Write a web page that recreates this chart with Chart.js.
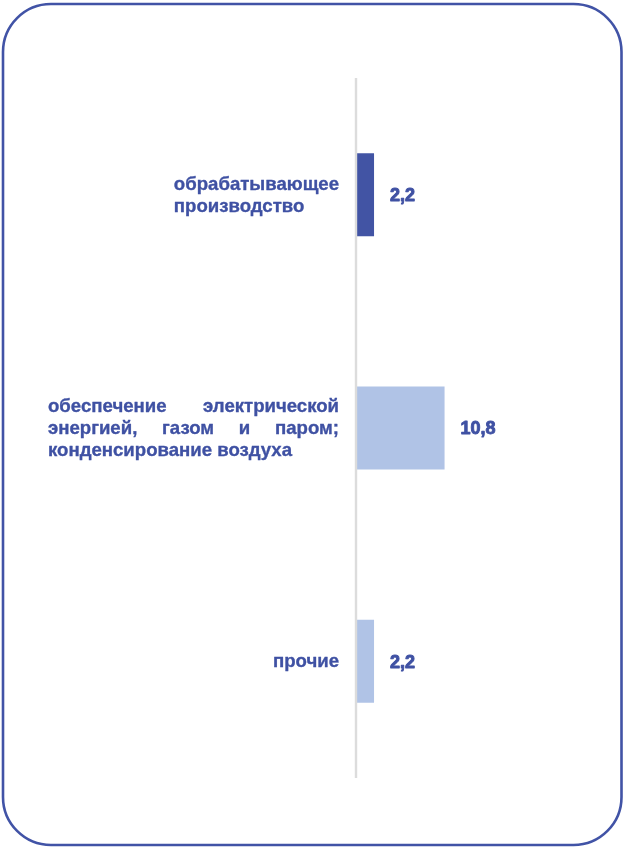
<!DOCTYPE html>
<html>
<head>
<meta charset="utf-8">
<script src="https://cdn.jsdelivr.net/npm/chart.js@4.4.1/dist/chart.umd.min.js"></script>
<style>
  html, body { margin: 0; padding: 0; background: #ffffff; }
  #c { display: block; }
</style>
</head>
<body>
<canvas id="c" width="625" height="849"></canvas>
<script>
// ---- data ----
const categories = [
  ["обрабатывающее", "производство"],
  ["обеспечение электрической", "энергией, газом и паром;", "конденсирование воздуха"],
  ["прочие"]
];
const values = [2.2, 10.8, 2.2];
const valueLabels = ["2,2", "10,8", "2,2"];

// ---- style ----
const textColor = "#3f51a3";
const barColors = ["#4254a4", "#b0c3e6", "#b0c3e6"];
const labelFont = "bold 18.6px 'Liberation Sans'";
const valueFont = "bold 18px 'Liberation Sans'";
const labelRight = 339;
const labelBoxWidths = [null, 291, null]; // null = natural width
const lineHeight = 22;

const decorPlugin = {
  id: 'decor',
  beforeDraw(chart) {
    const ctx = chart.ctx;
    ctx.save();
    ctx.fillStyle = '#ffffff';
    ctx.fillRect(0, 0, chart.width, chart.height);
    ctx.strokeStyle = '#4153a6';
    ctx.lineWidth = 2.6;
    ctx.beginPath();
    ctx.roundRect(3, 4, 618.5, 841, 48);
    ctx.stroke();
    ctx.restore();
  },
  afterDatasetsDraw(chart) {
    const ctx = chart.ctx;
    const xs = chart.scales.x, ys = chart.scales.y;
    const area = chart.chartArea;
    ctx.save();
    // axis line
    ctx.strokeStyle = '#dcdcdc';
    ctx.lineWidth = 2.4;
    const x0 = xs.getPixelForValue(0);
    ctx.beginPath();
    ctx.moveTo(x0, area.top);
    ctx.lineTo(x0, area.bottom);
    ctx.stroke();

    // category labels (justified block)
    ctx.fillStyle = textColor;
    ctx.strokeStyle = textColor;
    ctx.lineWidth = 0.35;
    ctx.lineJoin = 'round';
    ctx.font = labelFont;
    ctx.textBaseline = 'middle';
    ctx.textAlign = 'left';
    const put = (t, x, y) => { ctx.fillText(t, x, y); ctx.strokeText(t, x, y); };
    categories.forEach((lines, i) => {
      const cy = ys.getPixelForValue(i) + 1;
      const widths = lines.map(l => ctx.measureText(l).width);
      const boxW = labelBoxWidths[i] || Math.max(...widths);
      const left = labelRight - boxW;
      const n = lines.length;
      lines.forEach((line, j) => {
        const y = cy + (j - (n - 1) / 2) * lineHeight;
        const words = line.split(' ');
        const isLast = j === n - 1;
        if (!isLast && words.length > 1) {
          const wordsW = words.reduce((s, w) => s + ctx.measureText(w).width, 0);
          const gap = (boxW - wordsW) / (words.length - 1);
          let x = left;
          words.forEach(w => {
            put(w, x, y);
            x += ctx.measureText(w).width + gap;
          });
        } else {
          put(line, left, y);
        }
      });
    });

    // value labels
    ctx.font = valueFont;
    ctx.lineWidth = 0.9;
    const meta = chart.getDatasetMeta(0);
    meta.data.forEach((bar, i) => {
      const x = bar.x + 16;
      const y = bar.y + 1.5;
      ctx.strokeText(valueLabels[i], x, y);
      ctx.fillText(valueLabels[i], x, y);
    });
    ctx.restore();
  }
};

function build() {
  new Chart(document.getElementById('c'), {
    type: 'bar',
    data: {
      labels: categories,
      datasets: [{
        data: values,
        backgroundColor: barColors,
        borderWidth: 0,
        categoryPercentage: 1,
        barPercentage: 0.356
      }]
    },
    options: {
      indexAxis: 'y',
      responsive: false,
      animation: false,
      devicePixelRatio: 1,
      layout: { padding: { left: 356, right: 23, top: 78, bottom: 71 } },
      plugins: { legend: { display: false }, tooltip: { enabled: false } },
      scales: {
        x: { display: false, min: 0, max: 30 },
        y: { display: false }
      }
    },
    plugins: [decorPlugin]
  });
}

Promise.all([
  document.fonts.load(labelFont, "обрабатывающее 2,2"),
  document.fonts.load(valueFont, "2,2")
]).then(build, build);
</script>
</body>
</html>
